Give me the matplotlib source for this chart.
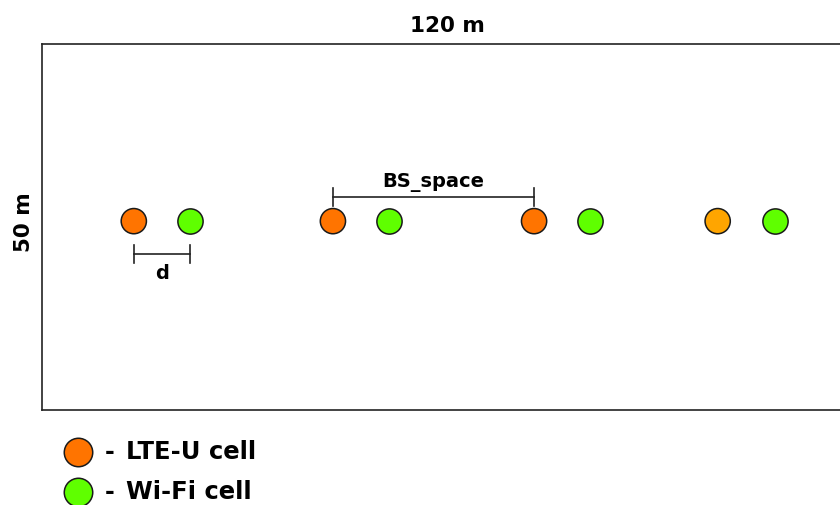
import matplotlib
matplotlib.use("Agg")
import matplotlib.pyplot as plt

# Positions in metres inside the 120 m x 50 m area
lte_x = [13.6, 43.1, 72.9, 100.1]
lte_colors = ["#ff7400", "#ff7400", "#ff7400", "#ffa500"]
wifi_x = [21.9, 51.4, 81.2, 108.6]
cell_y = 25.8
area_w = 120
area_h = 50
legend_labels = ["LTE-U cell", "Wi-Fi cell"]
legend_colors = ["#ff7400", "#5fff00"]

W, H = 840, 505
fig = plt.figure(figsize=(W / 100, H / 100), dpi=100)
plt.rcParams['font.family'] = ['DejaVu Sans']

# area rectangle runs past the right edge of the picture
ax = fig.add_axes([42 / W, (H - 410) / H, 810 / W, 366 / H])
ax.set_xlim(0, area_w)
ax.set_ylim(0, area_h)
ax.set_xticks([])
ax.set_yticks([])
for s in ax.spines.values():
    s.set_color("#222222")
    s.set_linewidth(1.2)

ax.scatter(lte_x, [cell_y] * len(lte_x), s=330, c=lte_colors,
           edgecolors="#1a1a1a", linewidths=1.1, zorder=3, clip_on=False)
ax.scatter(wifi_x, [cell_y] * len(wifi_x), s=330, c="#5fff00",
           edgecolors="#1a1a1a", linewidths=1.1, zorder=3, clip_on=False)

# dimension marks
def dim(x0, x1, y, label, ty, fs):
    ax.plot([x0, x1], [y, y], color="#222222", lw=1.2)
    ax.plot([x0, x0], [y - 1.2, y + 1.2], color="#222222", lw=1.2)
    ax.plot([x1, x1], [y - 1.2, y + 1.2], color="#222222", lw=1.2)
    ax.text((x0 + x1) / 2, ty, label, ha="center", va="center",
            fontsize=fs, fontweight="bold")

dim(lte_x[0], wifi_x[0], 21.3, "d", 18.6, 14)
dim(lte_x[1], lte_x[2], 29.1, "BS_space", 31.1, 14)

fig.text(447 / W, 1 - 26 / H, "120 m", ha="center", va="center",
         fontsize=15.5, fontweight="bold")
fig.text(24 / W, 1 - 222 / H, "50 m", ha="center", va="center",
         fontsize=15.5, fontweight="bold", rotation=90)

# legend
leg = fig.add_axes([0, 0, 1, 1], facecolor="none")
leg.set_xlim(0, W)
leg.set_ylim(H, 0)
leg.axis("off")
for i, (lab, col) in enumerate(zip(legend_labels, legend_colors)):
    yy = 452 + 40 * i
    leg.scatter([78], [yy], s=420, c=col, edgecolors="#1a1a1a", linewidths=1.1)
    leg.text(105, yy, "-", ha="left", va="center", fontsize=17, fontweight="bold")
    leg.text(126, yy, lab, ha="left", va="center", fontsize=17.5, fontweight="bold")

fig.savefig("out.png", dpi=100)
